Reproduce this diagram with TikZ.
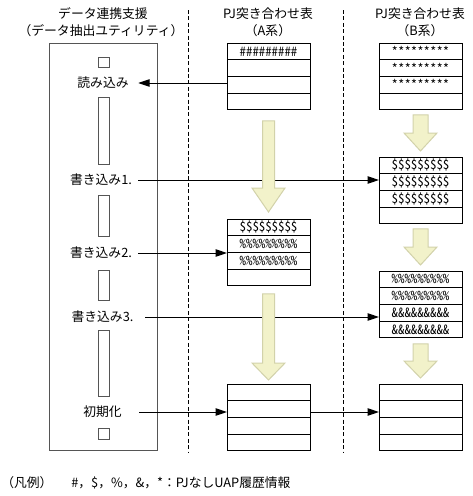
\documentclass[tikz,border=0pt]{standalone}
\usepackage{fontspec}
\setmainfont{Noto Sans CJK JP}
\newfontfamily\hwfont[RawFeature=+hwid]{Noto Sans CJK JP}
\usepackage{tikz}
\usetikzlibrary{arrows.meta,calc,positioning}
\definecolor{kiiro}{HTML}{F2F2CA}
\definecolor{kiwaku}{HTML}{D2D2AA}
\definecolor{waku}{HTML}{555555}

\begin{document}
\begin{tikzpicture}[x=0.75pt, y=-0.75pt, >={Triangle[length=8.5pt,width=5.5pt]},
  font=\fontsize{9.6}{11}\selectfont,
  row/.style={draw, line width=0.75pt, minimum width=62.25pt, minimum height=12.56pt,
    inner sep=0pt, outer sep=0pt, font=\hwfont\fontsize{9.6}{11}\selectfont},
  act/.style={inner sep=0pt},
  bar/.style={draw=waku, line width=0.75pt, fill=white},
  flow/.style={fill=kiiro, draw=kiwaku, line width=0.75pt},
  sep/.style={dash pattern=on 3pt off 1.8pt, line width=0.75pt},
  link/.style={->, line width=0.75pt}]
  \useasboundingbox (0,0) rectangle (473,496);
  % table of four rows: name, x, top, row texts
  \def\pjtable#1#2#3#4#5#6#7{%
    \node[row] (#1-1) at (#2,#3+8.375) {#4};
    \node[row, below=0pt of #1-1] (#1-2) {#5};
    \node[row, below=0pt of #1-2] (#1-3) {#6};
    \node[row, below=0pt of #1-3] (#1-4) {#7};}
  % yellow block arrow: from, to, top gap, tip gap, head length, shaft half, head half
  \def\flow#1#2#3#4#5#6#7{%
    \path (#1.south) ++(0,#3) coordinate (f-top) (#2.north) ++(0,-#4) coordinate (f-tip);
    \draw[flow] ($(f-top)+(-#6,0)$) -- ($(f-top)+(#6,0)$) -- ($(f-tip)+(#6,-#5)$)
      -- ($(f-tip)+(#7,-#5)$) -- (f-tip) -- ($(f-tip)+(-#7,-#5)$) -- ($(f-tip)+(-#6,-#5)$) -- cycle;}

  % headers
  \node (hd-tool) at (103,14) {データ連携支援};
  \node (hd-tool2) at (101,31) {（データ抽出ユティリティ）};
  \node (hd-a) at (268,14) {PJ突き合わせ表};
  \node (hd-a2) at (268,31) {（A系）};
  \node (hd-b) at (420,14) {PJ突き合わせ表};
  \node (hd-b2) at (420,31) {（B系）};

  \draw[sep] (188,10) -- (188,452);
  \draw[sep] (343,10) -- (343,452);

  % utility column
  \draw[draw=waku, line width=0.75pt] (49,43) rectangle (157,450);
  \foreach \t/\b in {57/67, 97/164, 195/236, 270/300, 330/396, 428/439}
    \draw[bar] (98,\t) rectangle (109,\b);
  \node[act] (read) at (103,83) {読み込み};
  \node[act] (w1) at (101,180) {書き込み1.};
  \node[act] (w2) at (101,253) {書き込み2.};
  \node[act] (w3) at (102.5,317) {書き込み3.};
  \node[act] (init) at (102.5,412) {初期化};

  % tables
  \pjtable{A1}{268.5}{43}{\#\#\#\#\#\#\#\#\#}{}{}{}
  \pjtable{A2}{268.5}{219}{\$\$\$\$\$\$\$\$\$}{\%\%\%\%\%\%\%\%\%}{\%\%\%\%\%\%\%\%\%}{}
  \pjtable{A3}{268.5}{384}{}{}{}{}
  \pjtable{B1}{420.5}{43}{*********}{*********}{*********}{}
  \pjtable{B2}{420.5}{157}{\$\$\$\$\$\$\$\$\$}{\$\$\$\$\$\$\$\$\$}{\$\$\$\$\$\$\$\$\$}{}
  \pjtable{B3}{420.5}{271}{\%\%\%\%\%\%\%\%\%}{\%\%\%\%\%\%\%\%\%}{\&\&\&\&\&\&\&\&\&}{\&\&\&\&\&\&\&\&\&}
  \pjtable{B4}{420.5}{384}{}{}{}{}

  % data flow
  \draw[link] (read -| A1-3.west) -- ([xshift=7pt]read.east);
  \draw[link] ([xshift=4.5pt]w1.east) -- (w1 -| B2-2.west);
  \draw[link] ([xshift=4.5pt]w2.east) -- (w2 -| A2-2.west);
  \draw[link] ([xshift=8.8pt]w3.east) -- (w3 -| B3-3.west);
  \draw[link] ([xshift=13pt]init.east) -- (init -| A3-2.west);
  \draw[link] (init -| A3-2.east) -- (init -| B4-2.west);

  \flow{A1-4}{A2-1}{11}{7}{24}{6}{16.5}
  \flow{A2-4}{A3-1}{8}{4}{17}{6}{16.5}
  \flow{B1-4}{B2-1}{5}{6}{18}{7.5}{16.5}
  \flow{B2-4}{B3-1}{5}{6}{18}{7.5}{16.5}
  \flow{B3-4}{B4-1}{6}{6}{17}{7.5}{16.5}

  % legend
  \node[act, anchor=west] (key) at (1,483) {（凡例）};
  \node[act, anchor=west] (key-text) at (71,483) {\#，\$，\%，\&，*：PJなしUAP履歴情報};
\end{tikzpicture}
\end{document}
